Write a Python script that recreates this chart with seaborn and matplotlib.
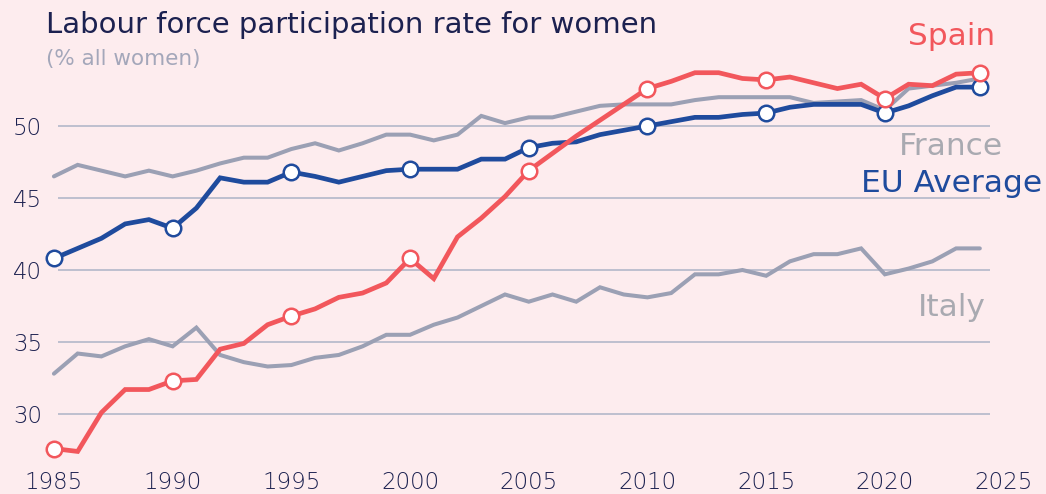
import matplotlib
matplotlib.use("Agg")
import matplotlib.pyplot as plt
import seaborn as sns
import pandas as pd

# Female labour force participation rate (% of all women), 1985-2024
years = list(range(1985, 2025))

spain = [27.6, 27.4, 30.1, 31.7, 31.7, 32.3, 32.4, 34.5, 34.9, 36.2,
         36.8, 37.3, 38.1, 38.4, 39.1, 40.8, 39.4, 42.3, 43.6, 45.1,
         46.9, 48.1, 49.3, 50.4, 51.5, 52.6, 53.1, 53.7, 53.7, 53.3,
         53.2, 53.4, 53.0, 52.6, 52.9, 51.9, 52.9, 52.8, 53.6, 53.7]

eu_average = [40.8, 41.5, 42.2, 43.2, 43.5, 42.9, 44.3, 46.4, 46.1, 46.1,
              46.8, 46.5, 46.1, 46.5, 46.9, 47.0, 47.0, 47.0, 47.7, 47.7,
              48.5, 48.8, 48.9, 49.4, 49.7, 50.0, 50.3, 50.6, 50.6, 50.8,
              50.9, 51.3, 51.5, 51.5, 51.5, 50.9, 51.4, 52.1, 52.7, 52.7]

france = [46.5, 47.3, 46.9, 46.5, 46.9, 46.5, 46.9, 47.4, 47.8, 47.8,
          48.4, 48.8, 48.3, 48.8, 49.4, 49.4, 49.0, 49.4, 50.7, 50.2,
          50.6, 50.6, 51.0, 51.4, 51.5, 51.5, 51.5, 51.8, 52.0, 52.0,
          52.0, 52.0, 51.6, 51.7, 51.8, 51.1, 52.6, 52.8, 53.0, 53.3]

italy = [32.8, 34.2, 34.0, 34.7, 35.2, 34.7, 36.0, 34.1, 33.6, 33.3,
         33.4, 33.9, 34.1, 34.7, 35.5, 35.5, 36.2, 36.7, 37.5, 38.3,
         37.8, 38.3, 37.8, 38.8, 38.3, 38.1, 38.4, 39.7, 39.7, 40.0,
         39.6, 40.6, 41.1, 41.1, 41.5, 39.7, 40.1, 40.6, 41.5, 41.5]

marker_years = [1985, 1990, 1995, 2000, 2005, 2010, 2015, 2020, 2024]
x_ticks = [1985, 1990, 1995, 2000, 2005, 2010, 2015, 2020, 2025]
y_ticks = [30, 35, 40, 45, 50]

BG = "#FDECEE"
RED = "#F2575C"
BLUE = "#1F4B9D"
GREY = "#9BA0B4"
LABEL_GREY = "#A9AAB1"
NAVY = "#1C2150"
GRID = "#B9BCCC"

sns.set_theme(style="white")
plt.rcParams["font.family"] = ["DejaVu Sans"]

df = pd.DataFrame({
    "year": years * 4,
    "rate": spain + eu_average + france + italy,
    "country": (["Spain"] * len(years) + ["EU Average"] * len(years)
                + ["France"] * len(years) + ["Italy"] * len(years)),
})

fig = plt.figure(figsize=(10.46, 4.94), dpi=100, facecolor=BG)
ax = fig.add_axes([0.0402, 0.0599, 0.9306, 0.8308])
ax.set_facecolor(BG)

# horizontal guides
ax.hlines(y_ticks, 1985.17, 2024.43, colors=GRID, linewidth=1.3, zorder=1)

styles = {
    "France": (GREY, 2.9, 2),
    "Italy": (GREY, 2.9, 2),
    "EU Average": (BLUE, 3.4, 3),
    "Spain": (RED, 3.4, 5),
}
for name, (col, lw, z) in styles.items():
    sub = df[df["country"] == name]
    sns.lineplot(data=sub, x="year", y="rate", color=col, linewidth=lw,
                 ax=ax, zorder=z, legend=False, solid_joinstyle="miter")
    if name in ("Spain", "EU Average"):
        pts = sub[sub["year"].isin(marker_years)]
        sns.scatterplot(data=pts, x="year", y="rate", color="white",
                        edgecolor=col, linewidth=1.8, s=125, ax=ax,
                        zorder=z + 1, legend=False)

ax.set_xlim(1984.5, 2025.5)
ax.set_ylim(26.5, 55)
ax.set_xticks(x_ticks)
ax.set_yticks(y_ticks)
ax.tick_params(axis="both", length=0, labelsize=16.5, labelcolor=NAVY)
ax.tick_params(axis="y", pad=0)
ax.tick_params(axis="x", pad=4.5)
for lbl in ax.get_xticklabels() + ax.get_yticklabels():
    lbl.set_fontweight("light")
ax.set_xlabel("")
ax.set_ylabel("")
for s in ax.spines.values():
    s.set_visible(False)

# series labels
lab_kw = dict(ha="center", va="center", fontsize=22.5)
ax.text(2022.8, 56.2, "Spain", color=RED, **lab_kw)
ax.text(2022.8, 48.6, "France", color=LABEL_GREY, **lab_kw)
ax.text(2022.8, 46.0, "EU Average", color=BLUE, **lab_kw)
ax.text(2022.8, 37.4, "Italy", color=LABEL_GREY, **lab_kw)

fig.text(0.044, 0.933, "Labour force participation rate for women",
         fontsize=21, color=NAVY, va="baseline", ha="left")
fig.text(0.044, 0.868, "(% all women)", fontsize=15.5, color="#A4A7BA",
         va="baseline", ha="left")

fig.savefig("out.png", dpi=100, facecolor=BG)
